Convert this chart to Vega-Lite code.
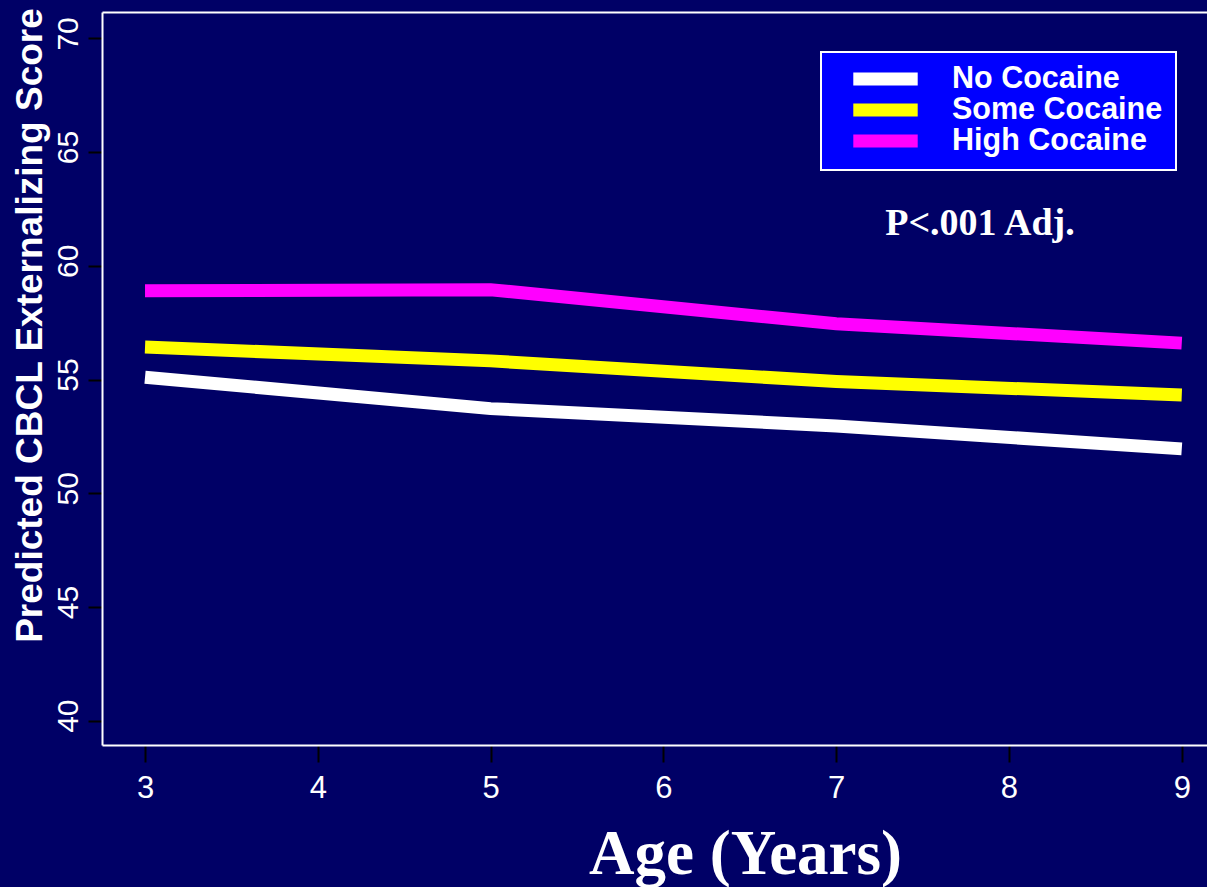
{
  "$schema": "https://vega.github.io/schema/vega-lite/v6.json",
  "width": 1105,
  "height": 733,
  "autosize": "none",
  "padding": {"left": 102, "top": 12, "right": 0, "bottom": 142},
  "background": "#000066",
  "config": {
    "view": {"stroke": null},
    "legend": {"strokeWidth": 2}
  },
  "layer": [
    {
      "data": {
        "values": [
          {"age": 3, "group": "No Cocaine", "score": 55.10},
          {"age": 5, "group": "No Cocaine", "score": 53.72},
          {"age": 7, "group": "No Cocaine", "score": 52.96},
          {"age": 9, "group": "No Cocaine", "score": 51.95},
          {"age": 3, "group": "Some Cocaine", "score": 56.43},
          {"age": 5, "group": "Some Cocaine", "score": 55.82},
          {"age": 7, "group": "Some Cocaine", "score": 54.91},
          {"age": 9, "group": "Some Cocaine", "score": 54.32},
          {"age": 3, "group": "High Cocaine", "score": 58.90},
          {"age": 5, "group": "High Cocaine", "score": 58.95},
          {"age": 7, "group": "High Cocaine", "score": 57.45},
          {"age": 9, "group": "High Cocaine", "score": 56.60}
        ]
      },
      "mark": {"type": "line", "strokeWidth": 13, "strokeCap": "butt"},
      "encoding": {
        "x": {
          "field": "age",
          "type": "quantitative",
          "scale": {"domain": [2.751, 9.146], "nice": false, "zero": false},
          "axis": {
            "orient": "bottom",
            "values": [3, 4, 5, 6, 7, 8, 9],
            "grid": false,
            "domainColor": "#FFFFFF",
            "domainWidth": 2,
            "tickColor": "#000000",
            "tickWidth": 2,
            "tickSize": 17,
            "labelColor": "#FFFFFF",
            "labelFont": "Liberation Sans",
            "labelFontSize": 31,
            "labelPadding": 11,
            "labelFlush": false,
            "labelOverlap": false,
            "title": "Age (Years)",
            "titleFont": "Liberation Serif",
            "titleFontWeight": "bold",
            "titleFontSize": 63,
            "titleColor": "#FFFFFF",
            "titleX": 643,
            "titleY": 128,
            "titleAlign": "center",
            "titleBaseline": "alphabetic"
          }
        },
        "y": {
          "field": "score",
          "type": "quantitative",
          "scale": {"domain": [38.93, 71.16], "nice": false, "zero": false},
          "axis": {
            "values": [40, 45, 50, 55, 60, 65, 70],
            "grid": false,
            "domainColor": "#FFFFFF",
            "domainWidth": 2,
            "tickColor": "#000000",
            "tickWidth": 2,
            "tickSize": 14,
            "labelColor": "#FFFFFF",
            "labelFont": "Liberation Sans",
            "labelFontSize": 30,
            "labelAngle": 270,
            "labelAlign": "center",
            "labelBaseline": "alphabetic",
            "labelPadding": 11,
            "labelOffset": -5,
            "labelOverlap": false,
            "title": "Predicted CBCL Externalizing Score",
            "titleFont": "Liberation Sans",
            "titleFontWeight": "bold",
            "titleFontSize": 37,
            "titleColor": "#FFFFFF",
            "titleAngle": 270,
            "titleX": -72,
            "titleY": 313,
            "titleAlign": "center",
            "titleBaseline": "middle"
          }
        },
        "color": {
          "field": "group",
          "type": "nominal",
          "scale": {
            "domain": ["No Cocaine", "Some Cocaine", "High Cocaine"],
            "range": ["#FFFFFF", "#FFFF00", "#FF00FF"]
          },
          "legend": {
            "orient": "none",
            "legendX": 719,
            "legendY": 40,
            "title": null,
            "fillColor": "#0000FF",
            "strokeColor": "#FFFFFF",
            "padding": 13,
            "symbolType": "M-2.147,0H2.147",
            "symbolSize": 900,
            "symbolStrokeWidth": 13,
            "symbolOffset": 30,
            "labelOffset": 45,
            "labelColor": "#FFFFFF",
            "labelFont": "Liberation Sans",
            "labelFontWeight": "bold",
            "labelFontSize": 30.5,
            "labelLimit": 400,
            "clipHeight": 28,
            "rowPadding": 0
          }
        }
      }
    },
    {
      "data": {"values": [{"label": "P<.001 Adj."}]},
      "mark": {
        "type": "text",
        "font": "Liberation Serif",
        "fontWeight": "bold",
        "fontSize": 38,
        "color": "#FFFFFF",
        "align": "center",
        "baseline": "alphabetic"
      },
      "encoding": {
        "x": {
          "datum": 7.832,
          "type": "quantitative",
          "scale": {"domain": [2.751, 9.146], "nice": false, "zero": false},
          "axis": {
            "orient": "top",
            "labels": false,
            "ticks": false,
            "grid": false,
            "title": null,
            "domainColor": "#FFFFFF",
            "domainWidth": 2
          }
        },
        "y": {"datum": 61.36, "type": "quantitative"},
        "text": {"field": "label"}
      }
    }
  ],
  "resolve": {"axis": {"x": "independent"}}
}
